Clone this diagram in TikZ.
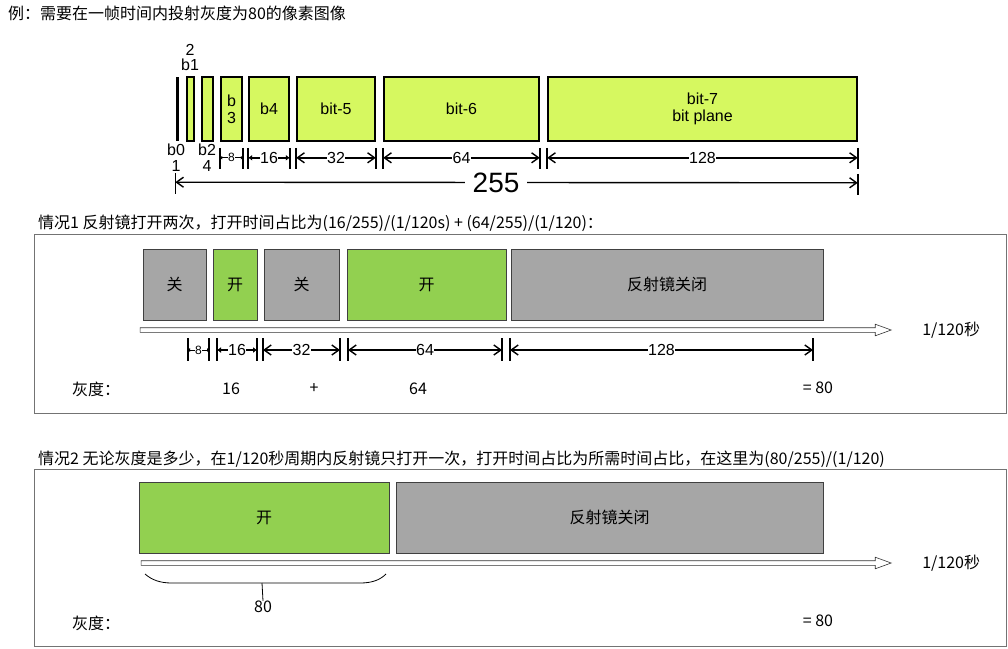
\documentclass[tikz,border=0pt]{standalone}
\usepackage{fontspec}
\newfontfamily\cjk{Noto Sans CJK SC}
\newfontfamily\helv{Liberation Sans}
\usetikzlibrary{arrows.meta,shapes.arrows,positioning}
\definecolor{bityellow}{RGB}{214,248,96}
\definecolor{ongreen}{RGB}{146,208,80}
\definecolor{offgray}{RGB}{166,166,166}

\begin{document}
\begin{tikzpicture}[
    x=1pt,y=-1pt,
    bitbox/.style={draw,line width=1.6pt,fill=bityellow,minimum height=64,inner sep=0pt,align=center,font=\helv\fontsize{16}{17}\selectfont},
    slotbox/.style={draw=black!75,line width=0.8pt,minimum height=71,inner sep=0pt,font=\cjk\fontsize{16}{18}\selectfont},
    onbox/.style={slotbox,fill=ongreen},
    offbox/.style={slotbox,fill=offgray},
    dim/.style={{Straight Barb[length=7pt,width=10pt]}-{Straight Barb[length=7pt,width=10pt]},line width=1.4pt},
    dimmid/.style={{Latex[length=4pt,width=6pt]}-{Latex[length=4pt,width=6pt]},line width=1.4pt},
    dimsmall/.style={{Latex[length=2pt,width=4pt]}-{Latex[length=2pt,width=4pt]},line width=1pt},
    tick/.style={line width=1.6pt},
    dimlbl/.style={fill=white,inner sep=0.5pt,font=\helv\fontsize{16}{16}\selectfont},
    lbl/.style={font=\helv\fontsize{16}{16}\selectfont,inner sep=0pt},
    txt/.style={font=\cjk\fontsize{16}{18}\selectfont,inner sep=0pt},
    timeline/.style={single arrow,draw=black!80,fill=white,line width=0.6pt,inner sep=0pt,inner ysep=2pt,
        single arrow head extend=3.5pt,single arrow tip angle=40},
    frame/.style={draw=black!55,line width=1pt}
]
\useasboundingbox (0,0) rectangle (1008,648);

% heading
\node[txt,anchor=west] (head) at (8,13) {例：需要在一帧时间内投射灰度为80的像素图像};

% bit planes
\node[fill=black,minimum width=3,minimum height=64,inner sep=0pt] (b0) at (177,109) {};
\node[bitbox,minimum width=7] (b1) at (190.5,109) {};
\node[bitbox,minimum width=11] (b2) at (207.5,109) {};
\node[bitbox,minimum width=21] (b3) at (231.5,109) {b\\3};
\node[bitbox,minimum width=40] (b4) at (269,109) {b4};
\node[bitbox,minimum width=78] (bit5) at (336,109) {bit-5};
\node[bitbox,minimum width=155] (bit6) at (461.5,109) {bit-6};
\node[bitbox,minimum width=309] (bit7) at (702.5,109) {bit-7\\bit plane};
\node[lbl] (b1w) at (190,50) {2};
\node[lbl] (b1n) at (190,65) {b1};
\node[lbl] (b0n) at (176,150) {b0};
\node[lbl] (b0w) at (176,166) {1};
\node[lbl] (b2n) at (207,150) {b2};
\node[lbl] (b2w) at (207,166) {4};

\foreach \b in {b3,b4,bit5,bit6,bit7} {
    \draw[tick] ([yshift=-6]\b.south west) -- ([yshift=-27]\b.south west);
    \draw[tick] ([yshift=-6]\b.south east) -- ([yshift=-27]\b.south east);
}
\draw[dimsmall] ([yshift=-16]b3.south west) -- node[dimlbl,font=\helv\fontsize{12}{12}\selectfont] (w3) {8} ([yshift=-16]b3.south east);
\foreach \b/\n/\s in {b4/16/dimmid,bit5/32/dim,bit6/64/dim,bit7/128/dim}
    \draw[\s] ([yshift=-16]\b.south west) -- node[dimlbl] (w\b) {\n} ([yshift=-16]\b.south east);
\draw[tick] ([yshift=-32]b0.south west) -- ([yshift=-53]b0.south west);
\draw[tick] ([yshift=-32]bit7.south east) -- ([yshift=-53]bit7.south east);
\draw[dim] ([yshift=-41]b0.south west) -- node[dimlbl,pos=0.47,inner xsep=8pt,font=\helv\fontsize{28}{28}\selectfont] (total) {255} ([yshift=-41]bit7.south east);

% case 1
\node[txt,anchor=west] (title1) at (38,223) {情况1 反射镜打开两次，打开时间占比为(16/255)/(1/120s) + (64/255)/(1/120)：};
\draw[frame] (34,234) rectangle (1006,413);
\node[offbox,minimum width=63] (off1) at (174.5,284.5) {关};
\node[onbox,minimum width=44] (on1) at (235,284.5) {开};
\node[offbox,minimum width=75] (off2) at (301.5,284.5) {关};
\node[onbox,minimum width=159] (on2) at (426.5,284.5) {开};
\node[offbox,minimum width=312] (shut1) at (667,284.5) {反射镜关闭};
\node[timeline,minimum height=751] (axis1) at (512.5,330) {};
\node[txt,right=30pt of axis1] (sec1) {1/120秒};

\foreach \a/\b/\n in {188/209/8,217/257/16,263/340/32,348/502/64,510/813/128} {
    \coordinate (l\n) at (\a,350);
    \coordinate (r\n) at (\b,350);
    \draw[tick] (\a,338) -- (\a,361);
    \draw[tick] (\b,338) -- (\b,361);
}
\draw[dimsmall] (l8) -- node[dimlbl,font=\helv\fontsize{12}{12}\selectfont] (v8) {8} (r8);
\foreach \n/\s in {16/dimmid,32/dim,64/dim,128/dim}
    \draw[\s] (l\n) -- node[dimlbl] (v\n) {\n} (r\n);

\node[txt,anchor=west] (gray1) at (72,389) {灰度：};
\node[txt] (sum1) at (231,389) {16};
\node[txt] (plus1) at (314,389) {+};
\node[txt] (sum2) at (418,389) {64};
\node[txt] (res1) at (818,388) {= 80};

% case 2
\node[txt,anchor=west] (title2) at (38,459) {情况2 无论灰度是多少，在1/120秒周期内反射镜只打开一次，打开时间占比为所需时间占比，在这里为(80/255)/(1/120)};
\draw[frame] (34,469) rectangle (1006,646);
\node[onbox,minimum width=250] (on3) at (264,517.5) {开};
\node[offbox,minimum width=427] (shut2) at (609.5,517.5) {反射镜关闭};
\node[timeline,minimum height=750] (axis2) at (513,563) {};
\node[txt,right=30pt of axis2] (sec2) {1/120秒};

\draw[line width=0.8pt] (145,574) .. controls (152,580) and (160,583) .. (172,583) -- (360,583)
    .. controls (372,583) and (380,580) .. (386,574);
\coordinate (brace) at (262,583);
\node[txt] (span) at (263,607) {80};
\draw[line width=0.8pt] (brace) -- (span.north);

\node[txt,anchor=west] (gray2) at (72,623) {灰度：};
\node[txt] (res2) at (818,621) {= 80};
\end{tikzpicture}
\end{document}
